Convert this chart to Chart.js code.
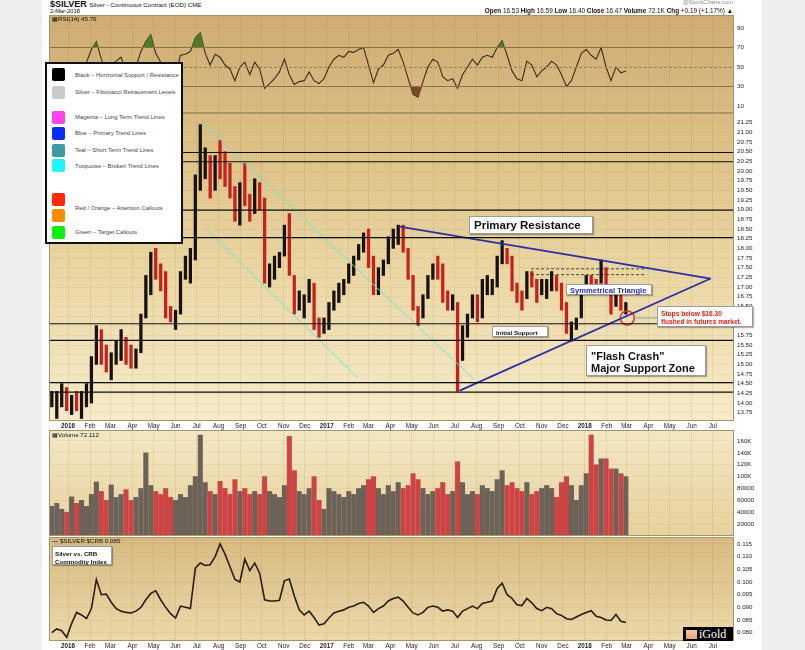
<!DOCTYPE html>
<html><head><meta charset="utf-8">
<script src="https://cdn.jsdelivr.net/npm/chart.js@4.4.1/dist/chart.umd.min.js"></script>
<style>
html,body{margin:0;padding:0;}
body{width:805px;height:650px;position:relative;background:#efeded;overflow:hidden;font-family:"Liberation Sans",Arial,sans-serif;color:#111;}
#page{position:absolute;left:42px;top:0;width:720px;height:650px;background:#fff;}
canvas{position:absolute;}
.t{position:absolute;white-space:nowrap;line-height:1;z-index:5;}
.box{position:absolute;background:#fff;border:1px solid #9c9c9c;box-shadow:1px 1px 1px rgba(0,0,0,.3);white-space:nowrap;z-index:6;font-weight:bold;line-height:1;box-sizing:border-box;}
#legend{position:absolute;left:45px;top:62px;width:138px;height:182px;background:#fff;border:2px solid #111;box-sizing:border-box;z-index:6;}
.sq{position:absolute;left:52px;width:13px;height:13px;border-radius:2px;z-index:7;}
.lt{position:absolute;left:75px;font-size:5.9px;color:#444;white-space:nowrap;line-height:1;z-index:7;}
</style></head><body>
<div id="page"></div>

<canvas id="cRsi" width="713" height="98" style="left:49px;top:15px"></canvas>
<canvas id="cPrice" width="713" height="317" style="left:49px;top:113px"></canvas>
<canvas id="cVol" width="713" height="106" style="left:49px;top:430px"></canvas>
<canvas id="cRatio" width="713" height="113" style="left:49px;top:537px"></canvas>

<!-- header -->
<div class="t" style="left:50px;top:-0.5px;font-size:9px;font-weight:bold">$SILVER <span style="font-weight:normal;font-size:6.2px">Silver - Continuous Contract (EOD) CME</span></div>
<div class="t" style="left:50px;top:8.5px;font-size:5.8px">2-Mar-2018</div>
<div class="t" style="right:72px;top:0px;font-size:5.8px;color:#888">@StockCharts.com</div>
<div class="t" style="right:72px;top:8px;font-size:6.4px"><b>Open</b> 16.53 <b>High</b> 16.59 <b>Low</b> 16.40 <b>Close</b> 16.47 <b>Volume</b> 72.1K <b>Chg</b> +0.19 (+1.17%) &#9650;</div>

<div class="t" style="left:52px;top:16px;font-size:6.2px">&#9638;RSI(14) 45.76</div>
<div class="t" style="left:52px;top:432px;font-size:6.2px">&#9638;Volume 72,112</div>
<div class="t" style="left:52px;top:538px;font-size:6.2px"><b>&#8212;</b> $SILVER:$CRB 0.085</div>

<!-- legend -->
<div id="legend"></div>
<span class="sq" style="top:68px;background:#000"></span><span class="lt" style="top:73px">Black – Horizontal Support / Resistance</span>
<span class="sq" style="top:86px;background:#c8cacc"></span><span class="lt" style="top:90px">Silver – Fibonacci Retracement Levels</span>
<span class="sq" style="top:111px;background:#ff44ee"></span><span class="lt" style="top:115px">Magenta – Long Term Trend Lines</span>
<span class="sq" style="top:127px;background:#0a2cff"></span><span class="lt" style="top:131px">Blue – Primary Trend Lines</span>
<span class="sq" style="top:144px;background:#3e9aa2"></span><span class="lt" style="top:148px">Teal – Short Term Trend Lines</span>
<span class="sq" style="top:159px;background:#22f4ff"></span><span class="lt" style="top:164px">Turquoise – Broken Trend Lines</span>
<span class="sq" style="top:193px;background:#ff2a00"></span>
<span class="sq" style="top:209px;background:#ff8c00"></span><span class="lt" style="top:206px">Red / Orange – Attention Callouts</span>
<span class="sq" style="top:226px;background:#10ee10"></span><span class="lt" style="top:230px">Green – Target Callouts</span>

<!-- callouts -->
<div class="box" style="left:469px;top:216px;width:124px;height:18px;font-size:11.5px;padding:3px 0 0 4px">Primary Resistance</div>
<div class="box" style="left:566px;top:284px;width:86px;height:11px;font-size:7.6px;color:#2a2fb5;padding:1.5px 0 0 3px">Symmetrical Triangle</div>
<div class="box" style="left:492px;top:326px;width:56px;height:11px;font-size:6.2px;padding:2.5px 0 0 3px">Initial Support</div>
<div class="box" style="left:657px;top:306px;width:96px;height:21px;font-size:6.6px;color:#e0200e;padding:2.5px 0 0 3px;line-height:1.25">Stops below $16.30<br>flushed in futures market.</div>
<div class="box" style="left:586px;top:345px;width:120px;height:31px;font-size:11px;padding:4px 0 0 4px;line-height:1.12">"Flash Crash"<br>Major Support Zone</div>
<div class="box" style="left:52px;top:546px;width:60px;height:19px;font-size:6.2px;padding:2.5px 0 0 2px;line-height:1.3">Silver vs. CRB<br>Commodity Index</div>

<div style="position:absolute;left:683px;top:627px;width:50px;height:14px;background:#000;z-index:6">
  <div style="position:absolute;left:3px;top:3px;width:11px;height:9px;background:linear-gradient(#f6c7a0,#e3a27a)"></div>
  <div class="t" style="left:16px;top:1px;font-family:'Liberation Serif','DejaVu Serif',serif;font-size:12px;color:#fff">iGold</div>
</div>

<script>
// ---------------- DATA ----------------
// weekly samples, x = calendar day offset from 1-Jan-2016 (week centres)
const WEEK0 = -23;
const WEEK_STEP = 7;

const priceHigh = [14.3,14.3,14.5,14.4,14.2,14.3,14.3,14.5,15.2,16.0,15.9,15.5,15.3,15.6,15.9,15.7,15.5,15.4,16.3,17.3,
 17.9,18.0,17.6,17.4,16.5,16.4,17.4,17.8,18.0,19.9,21.2,20.6,20.4,20.4,20.8,20.5,20.2,19.6,19.7,20.2,
 19.4,19.8,19.7,19.3,17.6,17.8,17.9,18.6,18.9,17.3,16.9,16.8,17.2,17.1,16.2,16.2,16.6,16.9,17.1,17.2,
 17.6,17.8,18.1,18.4,18.5,17.8,17.5,17.7,18.3,18.5,18.6,18.6,18.0,17.3,16.5,16.8,17.3,17.6,17.8,17.6,
 16.9,16.8,16.6,16.0,16.3,16.8,16.8,17.2,17.3,17.2,17.8,18.2,18.0,17.8,17.1,16.9,17.4,17.4,17.2,17.2,
 17.2,17.4,17.3,17.1,16.6,16.1,16.2,17.0,17.3,17.3,17.2,17.7,17.5,16.9,16.9,16.8,16.6];
const priceLow = [13.9,13.6,13.9,13.8,13.7,13.8,13.6,13.9,14.0,15.0,15.0,14.8,14.6,15.0,15.1,15.0,14.9,14.9,15.3,16.2,
 16.8,17.2,16.9,16.2,16.1,15.9,16.3,17.2,17.1,17.7,19.5,19.8,19.3,19.5,19.8,19.6,19.3,18.7,18.6,19.1,
 18.7,18.9,19.0,17.1,17.0,17.2,17.5,17.8,17.3,16.3,16.4,16.2,16.6,15.9,15.7,15.8,15.9,16.4,16.6,16.8,
 17.1,17.3,17.7,17.9,17.5,16.8,16.8,17.3,17.6,18.0,18.1,17.9,17.2,16.4,16.0,16.2,16.7,17.2,17.2,16.6,
 16.4,16.4,14.3,15.1,15.7,16.2,16.1,16.2,16.8,16.8,17.0,17.6,17.6,16.9,16.6,16.4,16.7,17.0,16.6,16.8,
 16.7,16.9,16.9,16.4,15.8,15.6,15.9,16.2,16.9,16.9,16.9,17.1,16.9,16.3,16.5,16.4,16.3];
const priceClose = [13.9,13.9,14.3,13.8,13.9,13.8,14.1,14.3,15.1,15.8,15.3,14.8,15.0,15.4,15.7,15.2,15.0,15.3,16.2,17.1,
 17.8,17.4,17.1,16.4,16.3,16.3,17.3,17.4,17.8,19.7,20.0,20.2,19.6,20.3,19.9,19.7,19.5,18.8,19.6,19.2,
 18.9,19.7,19.2,17.3,17.3,17.4,17.8,18.4,17.4,16.5,16.6,16.6,16.9,16.0,15.9,16.0,16.5,16.8,17.0,17.1,
 17.5,17.7,18.0,18.3,17.7,16.9,17.4,17.6,18.2,18.3,18.5,17.9,17.3,16.5,16.3,16.7,17.3,17.5,17.3,16.7,
 16.6,16.6,15.4,15.9,16.2,16.7,16.2,17.0,17.0,17.0,17.7,18.0,17.7,17.0,16.7,16.6,17.3,17.1,16.7,16.8,
 16.9,17.3,17.0,16.5,15.8,16.0,16.2,17.0,17.2,17.1,17.0,17.5,16.9,16.5,16.8,16.5,16.5];

const rsiValues = [45,40,52,42,46,44,50,55,68,76,58,45,52,56,60,46,42,50,66,76,
 83,64,55,38,36,42,62,63,66,80,85,64,52,63,60,52,48,36,50,55,
 42,55,48,28,33,38,45,58,42,32,35,36,45,36,33,38,50,58,62,60,
 66,65,68,70,52,34,48,52,62,64,68,55,38,22,19,35,50,58,55,40,
 36,38,28,42,50,58,52,60,62,60,70,77,62,46,38,36,56,52,40,46,
 50,56,52,42,30,36,50,64,68,62,58,70,50,36,50,44,46];

const volumeValues = [50,55,45,40,66,55,60,50,70,91,75,60,86,65,70,78,60,65,80,140,
 85,75,70,80,65,60,70,65,85,100,170,90,75,70,92,80,70,95,75,80,
 70,75,70,100,75,70,65,85,168,110,75,70,80,100,60,45,80,75,70,65,
 75,70,80,85,95,100,80,70,85,75,90,80,85,105,95,80,70,75,80,90,
 70,75,125,90,70,75,70,85,80,75,95,110,85,90,80,75,90,70,75,80,
 85,80,65,90,100,85,60,85,105,170,120,130,130,113,113,105,100].map(v => v * 1000);

const ratioValues = [0.0800,0.0815,0.0808,0.0782,0.0836,0.0880,0.0870,0.0856,0.0895,0.1010,0.0950,0.0952,0.0920,0.0895,0.0885,0.0880,0.0878,0.0885,0.0900,0.0930,
 0.0955,0.0965,0.0930,0.0900,0.0875,0.0858,0.0905,0.0900,0.0895,0.1055,0.1075,0.1065,0.1068,0.1100,0.1150,0.1110,0.1060,0.1010,0.1000,0.1090,
 0.1045,0.1075,0.1035,0.0930,0.0925,0.0925,0.0928,0.1005,0.1012,0.0945,0.0890,0.0870,0.0885,0.0860,0.0830,0.0835,0.0858,0.0878,0.0885,0.0890,
 0.0900,0.0905,0.0915,0.0920,0.0905,0.0880,0.0895,0.0905,0.0925,0.0935,0.0940,0.0925,0.0900,0.0878,0.0870,0.0880,0.0900,0.0905,0.0900,0.0885,
 0.0890,0.0885,0.0860,0.0885,0.0895,0.0905,0.0895,0.0915,0.0920,0.0925,0.0975,0.0995,0.0950,0.0935,0.0910,0.0907,0.0935,0.0918,0.0895,0.0887,
 0.0900,0.0895,0.0875,0.0868,0.0855,0.0852,0.0862,0.0872,0.0880,0.0887,0.0865,0.0860,0.0850,0.0848,0.0872,0.0845,0.0840];

// axis tick labels
const monthDays = [0,31,60,91,121,152,182,213,244,274,305,335,366,397,425,456,486,517,547,578,609,639,670,700,731,762,790,821,851,882,912];
const monthLabels = ['2016','Feb','Mar','Apr','May','Jun','Jul','Aug','Sep','Oct','Nov','Dec','2017','Feb','Mar','Apr','May','Jun','Jul','Aug','Sep','Oct','Nov','Dec','2018','Feb','Mar','Apr','May','Jun','Jul'];
const yearDays = [0,366,731];
const rsiTicks = [10,30,50,70,90];
const priceTicks = [13.75,14.00,14.25,14.50,14.75,15.00,15.25,15.50,15.75,16.00,16.25,16.50,16.75,17.00,17.25,17.50,17.75,18.00,18.25,18.50,18.75,19.00,19.25,19.50,19.75,20.00,20.25,20.50,20.75,21.00,21.25];
const volTicks = [20000,40000,60000,80000,100000,120000,140000,160000];
const volTickLabels = ['20000','40000','60000','80000','100K','120K','140K','160K'];
const ratioTicks = [0.080,0.085,0.090,0.095,0.100,0.105,0.110,0.115];

// drawn trend/support annotations (day, price)
const supportLevels = [20.48,20.24,18.99,18.28,16.05,15.62,14.53,14.28];
const triangleUpper = [[469,18.56],[909,17.22]];
const triangleLower = [[554,14.32],[909,17.22]];
const brokenLineA = [[188,21.27],[575,14.60]];
const brokenLineB = [[196,18.48],[410,14.65]];
const dashedTop1 = [[655,17.47],[816,17.47]];
const dashedTop2 = [[655,17.32],[816,17.32]];
const stopCircle = [[791,16.20]];
const calloutLink = [[800,16.20],[834,16.20]];

// ---------------- CHARTS ----------------
const FONT = "'Liberation Sans', Arial, sans-serif";
const X_MIN = -27, X_MAX = 942, AXIS_W = 28;
const dayOf = i => WEEK0 + i * WEEK_STEP;
const labelMap = {}; monthDays.forEach((d,i)=>labelMap[d]=monthLabels[i]);
const pts = arr => arr.map(([x,y])=>({x,y}));

const panelPlugin = {
  id:'panel',
  beforeDraw(chart, args, o){
    const {ctx, chartArea:a} = chart;
    const g = ctx.createLinearGradient(0,a.top,0,a.bottom);
    o.stops.forEach(s=>g.addColorStop(s[0],s[1]));
    ctx.save(); ctx.fillStyle=g; ctx.fillRect(a.left,a.top,a.width,a.height); ctx.restore();
  },
  afterDraw(chart, args, o){
    const {ctx, chartArea:a} = chart;
    ctx.save();
    if (o.lines){
      const ys = chart.scales.y;
      o.lines.forEach(l=>{
        const y = Math.round(ys.getPixelForValue(l.v))+0.5;
        ctx.strokeStyle=l.c; ctx.lineWidth=l.w||1; ctx.setLineDash(l.dash||[]);
        ctx.beginPath(); ctx.moveTo(a.left,y); ctx.lineTo(a.right,y); ctx.stroke();
      });
      ctx.setLineDash([]);
    }
    ctx.strokeStyle='#a89468'; ctx.lineWidth=1;
    ctx.strokeRect(a.left+0.5,a.top+0.5,a.width-1,a.height-1);
    ctx.restore();
  }
};

function noPad(s){ s.paddingTop=0; s.paddingBottom=0; s.paddingLeft=0; s.paddingRight=0; }
function xAxis(show){
  return {type:'linear',min:X_MIN,max:X_MAX,offset:false,
    afterBuildTicks:s=>{s.ticks=monthDays.map(v=>({value:v}));},
    afterFit:s=>{s.height = show?9:0; noPad(s);},
    ticks:{display:show,autoSkip:false,maxRotation:0,padding:1,color:'#222',
      callback:v=>labelMap[v],
      font:c=>({family:FONT,size:6.3,weight:(c.tick && yearDays.includes(c.tick.value))?'bold':'normal'})},
    grid:{drawTicks:false,offset:false,color:'rgba(140,105,50,0.13)'},
    border:{display:false}};
}
function yAxis(min,max,ticks,fmt){
  return {type:'linear',position:'right',min,max,
    afterBuildTicks:s=>{s.ticks=ticks.map(v=>({value:v}));},
    afterFit:s=>{s.width=AXIS_W; noPad(s);},
    ticks:{callback:fmt,autoSkip:false,padding:3,color:'#222',font:{family:FONT,size:6.2}},
    grid:{drawTicks:false,color:'rgba(140,105,50,0.07)'},
    border:{display:false}};
}
function baseOpts(scales, panel){
  return {responsive:false,animation:false,devicePixelRatio:1,
    layout:{padding:0,autoPadding:false},
    plugins:{legend:{display:false},tooltip:{enabled:false},panel},
    scales};
}

// RSI
const rsiPts = rsiValues.map((v,i)=>({x:dayOf(i),y:v}));
new Chart(document.getElementById('cRsi'),{
  type:'line',
  data:{datasets:[
    {data:rsiPts,borderWidth:0,pointRadius:0,fill:{target:{value:70},above:'#4f7a2c',below:'rgba(0,0,0,0)'}},
    {data:rsiPts,borderWidth:0,pointRadius:0,fill:{target:{value:30},above:'rgba(0,0,0,0)',below:'#7b4a22'}},
    {data:rsiPts,borderColor:'#3b2d18',borderWidth:1.1,pointRadius:0,fill:false}
  ]},
  options:baseOpts({x:xAxis(false),y:yAxis(2.82,103.33,rsiTicks,v=>String(v))},
    {stops:[[0,'#cfac72'],[1,'#d9bb85']],
     lines:[{v:70,c:'#8a7248'},{v:30,c:'#8a7248'},{v:50,c:'#9a8458',dash:[3,2]}]}),
  plugins:[panelPlugin]
});

// Price
const priceColors = priceClose.map((c,i)=> (i>0 && c<priceClose[i-1]) ? '#c8201c' : '#18110a');
const lineDs = (data,color,w,dash) => ({type:'line',data:pts(data),borderColor:color,borderWidth:w,borderDash:dash||[],pointRadius:0,fill:false,order:0,tension:0});
const priceDatasets = [
  {type:'bar',data:priceHigh.map((h,i)=>({x:dayOf(i),y:[priceLow[i],h]})),backgroundColor:priceColors,barThickness:2.6,order:2}
];
supportLevels.forEach(l=>priceDatasets.push(lineDs([[X_MIN,l],[X_MAX,l]],'#111',1.2)));
priceDatasets.push(lineDs(brokenLineA,'#66e4e0',1));
priceDatasets.push(lineDs(brokenLineB,'#66e4e0',1));
priceDatasets.push(lineDs(dashedTop1,'#222',0.8,[3,2]));
priceDatasets.push(lineDs(dashedTop2,'#222',0.8,[3,2]));
priceDatasets.push(lineDs(triangleUpper,'#2a30a8',1.8));
priceDatasets.push(lineDs(triangleLower,'#2a30a8',1.8));
priceDatasets.push(lineDs(calloutLink,'#9a9a9a',1));
priceDatasets.push({type:'line',data:pts(stopCircle),showLine:false,pointRadius:7,pointBorderWidth:1.5,pointBorderColor:'#e0301e',pointBackgroundColor:'rgba(0,0,0,0)',order:0});
new Chart(document.getElementById('cPrice'),{
  type:'bar',
  data:{datasets:priceDatasets},
  options:baseOpts({x:xAxis(true),y:yAxis(13.535,21.501,priceTicks,v=>v.toFixed(2))},
    {stops:[[0,'#d9bb80'],[0.5,'#ead6a2'],[1,'#f6ecca']]}),
  plugins:[panelPlugin]
});

// Volume
const volColors = priceClose.map((c,i)=> (i>0 && c<priceClose[i-1]) ? '#cc4444' : '#6c6258');
new Chart(document.getElementById('cVol'),{
  type:'bar',
  data:{datasets:[{data:volumeValues.map((v,i)=>({x:dayOf(i),y:v})),backgroundColor:volColors,barThickness:4.4}]},
  options:baseOpts({x:xAxis(false),y:yAxis(0,178500,volTicks,v=>volTickLabels[volTicks.indexOf(v)])},
    {stops:[[0,'#f3e7c3'],[1,'#e7d19d']]}),
  plugins:[panelPlugin]
});

// Ratio
new Chart(document.getElementById('cRatio'),{
  type:'line',
  data:{datasets:[{data:ratioValues.map((v,i)=>({x:dayOf(i),y:v})),borderColor:'#2a1c0c',borderWidth:1.6,pointRadius:0,fill:false,tension:0}]},
  options:baseOpts({x:xAxis(true),y:yAxis(0.07672,0.11776,ratioTicks,v=>v.toFixed(3))},
    {stops:[[0,'#d8ba80'],[1,'#ebd9aa']]}),
  plugins:[panelPlugin]
});
</script>
</body></html>
